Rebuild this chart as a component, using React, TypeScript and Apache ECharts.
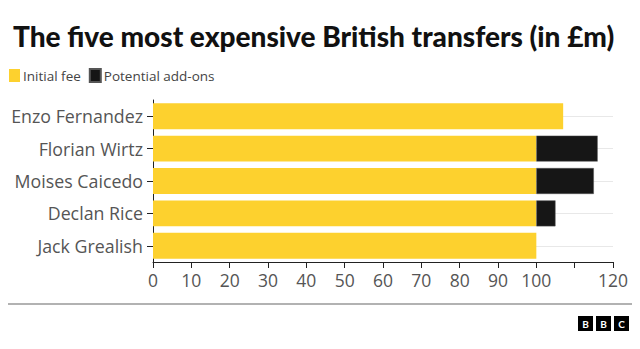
import React, { useEffect, useRef } from "react";
import * as echarts from "echarts";

const players = ["Enzo Fernandez", "Florian Wirtz", "Moises Caicedo", "Declan Rice", "Jack Grealish"];
const initialFee = [107, 100, 100, 100, 100];
const addOns = [null, 16, 15, 5, null];
const xTicks = [0, 10, 20, 30, 40, 50, 60, 70, 80, 90, 100, 120];

const YELLOW = "#FDD12E";
const BLACK = "#161616";
const FONT = "Open Sans";

export default function App() {
  const ref = useRef<HTMLDivElement>(null);
  useEffect(() => {
    const chart = echarts.init(ref.current!, null, { renderer: "svg" });
    chart.setOption({
      animation: false,
      textStyle: { fontFamily: FONT },
      title: {
        text: "The five most expensive British transfers (in £m)",
        left: 8,
        top: 17,
        textStyle: { fontFamily: "Lato", fontSize: 28, fontWeight: 900, color: "#111" },
      },
      legend: {
        left: 4,
        top: 63,
        itemWidth: 11,
        itemHeight: 13,
        itemGap: 8,
        icon: "rect",
        textStyle: { fontFamily: FONT, fontSize: 13.5, color: "#444", padding: [0, 0, 0, -2] },
        data: ["Initial fee", "Potential add-ons"],
      },
      grid: { left: 153, right: 27, top: 100, bottom: 87, containLabel: false },
      xAxis: {
        type: "value",
        min: 0,
        max: 120,
        interval: 10,
        axisLine: { show: true, lineStyle: { color: "#222", width: 1 } },
        axisTick: { show: true, length: 6, lineStyle: { color: "#222" } },
        splitLine: { show: false },
        axisLabel: {
          fontFamily: FONT,
          fontSize: 17.5,
          color: "#555",
          margin: 9,
          formatter: (v: number) => (xTicks.includes(v) ? String(v) : ""),
        },
      },
      yAxis: {
        type: "category",
        inverse: true,
        data: players,
        axisLine: { show: true, lineStyle: { color: "#222", width: 1 } },
        axisTick: { show: true, length: 6, alignWithLabel: true, lineStyle: { color: "#222" } },
        axisLabel: { fontFamily: FONT, fontSize: 17.8, color: "#555", margin: 10 },
      },
      series: [
        {
          name: "Initial fee",
          type: "bar",
          stack: "fee",
          barCategoryGap: "20%",
          itemStyle: { color: YELLOW },
          data: initialFee,
          markLine: {
            silent: true,
            symbol: "none",
            label: { show: false },
            lineStyle: { color: "#e8e8e8", width: 1, type: "solid" },
            data: players.map((p) => ({ yAxis: p })),
            z: 0,
          },
          z: 2,
        },
        {
          name: "Potential add-ons",
          type: "bar",
          stack: "fee",
          itemStyle: { color: BLACK, borderColor: "#555", borderWidth: 0.5 },
          data: addOns,
          z: 2,
        },
      ],
      graphic: [
        { type: "line", shape: { x1: 8, y1: 304, x2: 632, y2: 304 }, style: { stroke: "#999", lineWidth: 1.5 } },
        ...["B", "B", "C"].flatMap((ch, i) => [
          { type: "rect", shape: { x: 578 + i * 18, y: 316, width: 15, height: 15 }, style: { fill: "#000" } },
          {
            type: "text",
            x: 585.5 + i * 18,
            y: 323.5,
            style: { text: ch, fill: "#fff", font: "bold 10px Lato", align: "center", verticalAlign: "middle" },
          },
        ]),
      ],
    });
    return () => chart.dispose();
  }, []);
  return <div ref={ref} style={{ width: 640, height: 349, position: "absolute", left: 0, top: 0 }} />;
}
